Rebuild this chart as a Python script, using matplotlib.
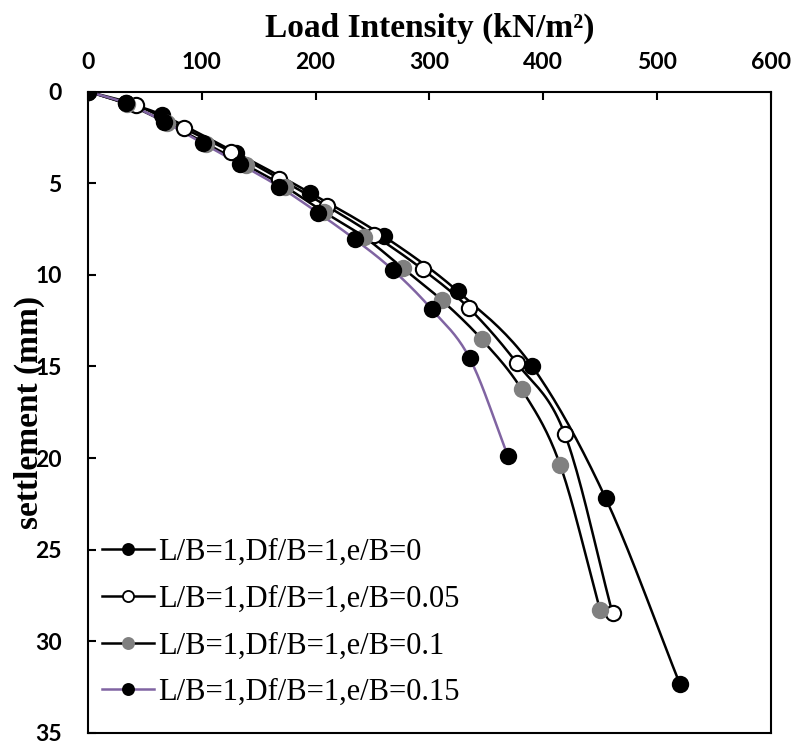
import numpy as np
import matplotlib
matplotlib.use("Agg")
import matplotlib.pyplot as plt

# ---- data ----
labels = ["L/B=1,Df/B=1,e/B=0", "L/B=1,Df/B=1,e/B=0.05",
          "L/B=1,Df/B=1,e/B=0.1", "L/B=1,Df/B=1,e/B=0.15"]

load_0 = [0, 33, 65, 130, 195, 260, 325, 390, 455, 520]
sett_0 = [0, 0.64, 1.28, 3.34, 5.52, 7.9, 10.9, 14.96, 22.2, 32.3]

load_005 = [0, 42, 84, 126, 168, 210, 251, 294, 335, 377, 419, 461]
sett_005 = [0, 0.74, 2.0, 3.3, 4.75, 6.25, 7.83, 9.7, 11.83, 14.83, 18.69, 28.47]

load_01 = [0, 34.6, 69, 104, 138.5, 173, 207, 243, 277, 311, 346, 381, 415, 450]
sett_01 = [0, 0.7, 1.7, 2.85, 4.0, 5.19, 6.56, 7.95, 9.65, 11.39, 13.52, 16.24, 20.38, 28.29]

load_015 = [0, 33.5, 67, 101, 134, 168, 202, 234.5, 268, 302, 335.5, 369]
sett_015 = [0, 0.64, 1.65, 2.83, 3.97, 5.19, 6.61, 8.06, 9.74, 11.88, 14.56, 19.87]

x_ticks = [0, 100, 200, 300, 400, 500, 600]
y_ticks = [0, 5, 10, 15, 20, 25, 30, 35]


def smooth(xs, ys, n=20):
    """Catmull-Rom smoothing through the data points (like Excel's smoothed line)."""
    p = np.column_stack([xs, ys]).astype(float)
    p = np.vstack([2 * p[0] - p[1], p, 2 * p[-1] - p[-2]])
    out = []
    t = np.linspace(0, 1, n, endpoint=False)[:, None]
    for i in range(1, len(p) - 2):
        p0, p1, p2, p3 = p[i - 1], p[i], p[i + 1], p[i + 2]
        seg = 0.5 * ((2 * p1) + (-p0 + p2) * t + (2 * p0 - 5 * p1 + 4 * p2 - p3) * t ** 2
                     + (-p0 + 3 * p1 - 3 * p2 + p3) * t ** 3)
        out.append(seg)
    out.append(p[-2][None, :])
    s = np.vstack(out)
    return s[:, 0], s[:, 1]


fig = plt.figure(figsize=(7.97, 7.44), dpi=100)
ax = fig.add_axes([0.1104, 0.0148, 0.8566, 0.8622])

ms = 11
lw = 1.8
series = [
    (load_0, sett_0, dict(color="black", mfc="black", mec="black")),
    (load_005, sett_005, dict(color="black", mfc="white", mec="black")),
    (load_01, sett_01, dict(color="black", mfc="#808080", mec="#808080")),
    (load_015, sett_015, dict(color="#8064A2", mfc="black", mec="black")),
]
for (xs, ys, st), lab in zip(series, labels):
    sx, sy = smooth(xs, ys)
    ax.plot(sx, sy, color=st["color"], lw=lw, zorder=2)
    ax.plot(xs, ys, linestyle="none", marker="o", ms=ms, mfc=st["mfc"],
            mec=st["mec"], mew=1.5, zorder=3)
    # legend proxy
    ax.plot([], [], color=st["color"], lw=lw, marker="o", ms=8,
            mfc=st["mfc"], mec=st["mec"], mew=1.3, label=lab)

ax.set_xlim(0, 600)
ax.set_ylim(35, 0)
ax.xaxis.tick_top()
ax.xaxis.set_label_position("top")
ax.set_xticks(x_ticks)
ax.set_yticks(y_ticks)
ax.tick_params(axis="x", direction="in", length=6, width=1.5, pad=13,
               top=True, bottom=False)
ax.tick_params(axis="y", direction="in", length=6, width=1.5, pad=19,
               left=True, right=False)
for lab in ax.get_xticklabels() + ax.get_yticklabels():
    lab.set_fontfamily("Lato")
    lab.set_fontweight("bold")
    lab.set_fontsize(16.5)
for sp in ax.spines.values():
    sp.set_linewidth(1.5)

ax.set_xlabel("Load Intensity (kN/m²)", fontfamily="Liberation Serif",
              fontweight="bold", fontsize=24, labelpad=11)
ax.set_ylabel("settlement (mm)", fontfamily="Liberation Serif",
              fontweight="bold", fontsize=24, labelpad=-7)

leg = ax.legend(loc="upper left", bbox_to_anchor=(0.02, 0.304), frameon=False,
                prop={"family": "Liberation Serif", "size": 22},
                handlelength=1.7, handletextpad=0.15, labelspacing=0.58,
                borderpad=0, borderaxespad=0)

fig.savefig("out.png", dpi=100)
